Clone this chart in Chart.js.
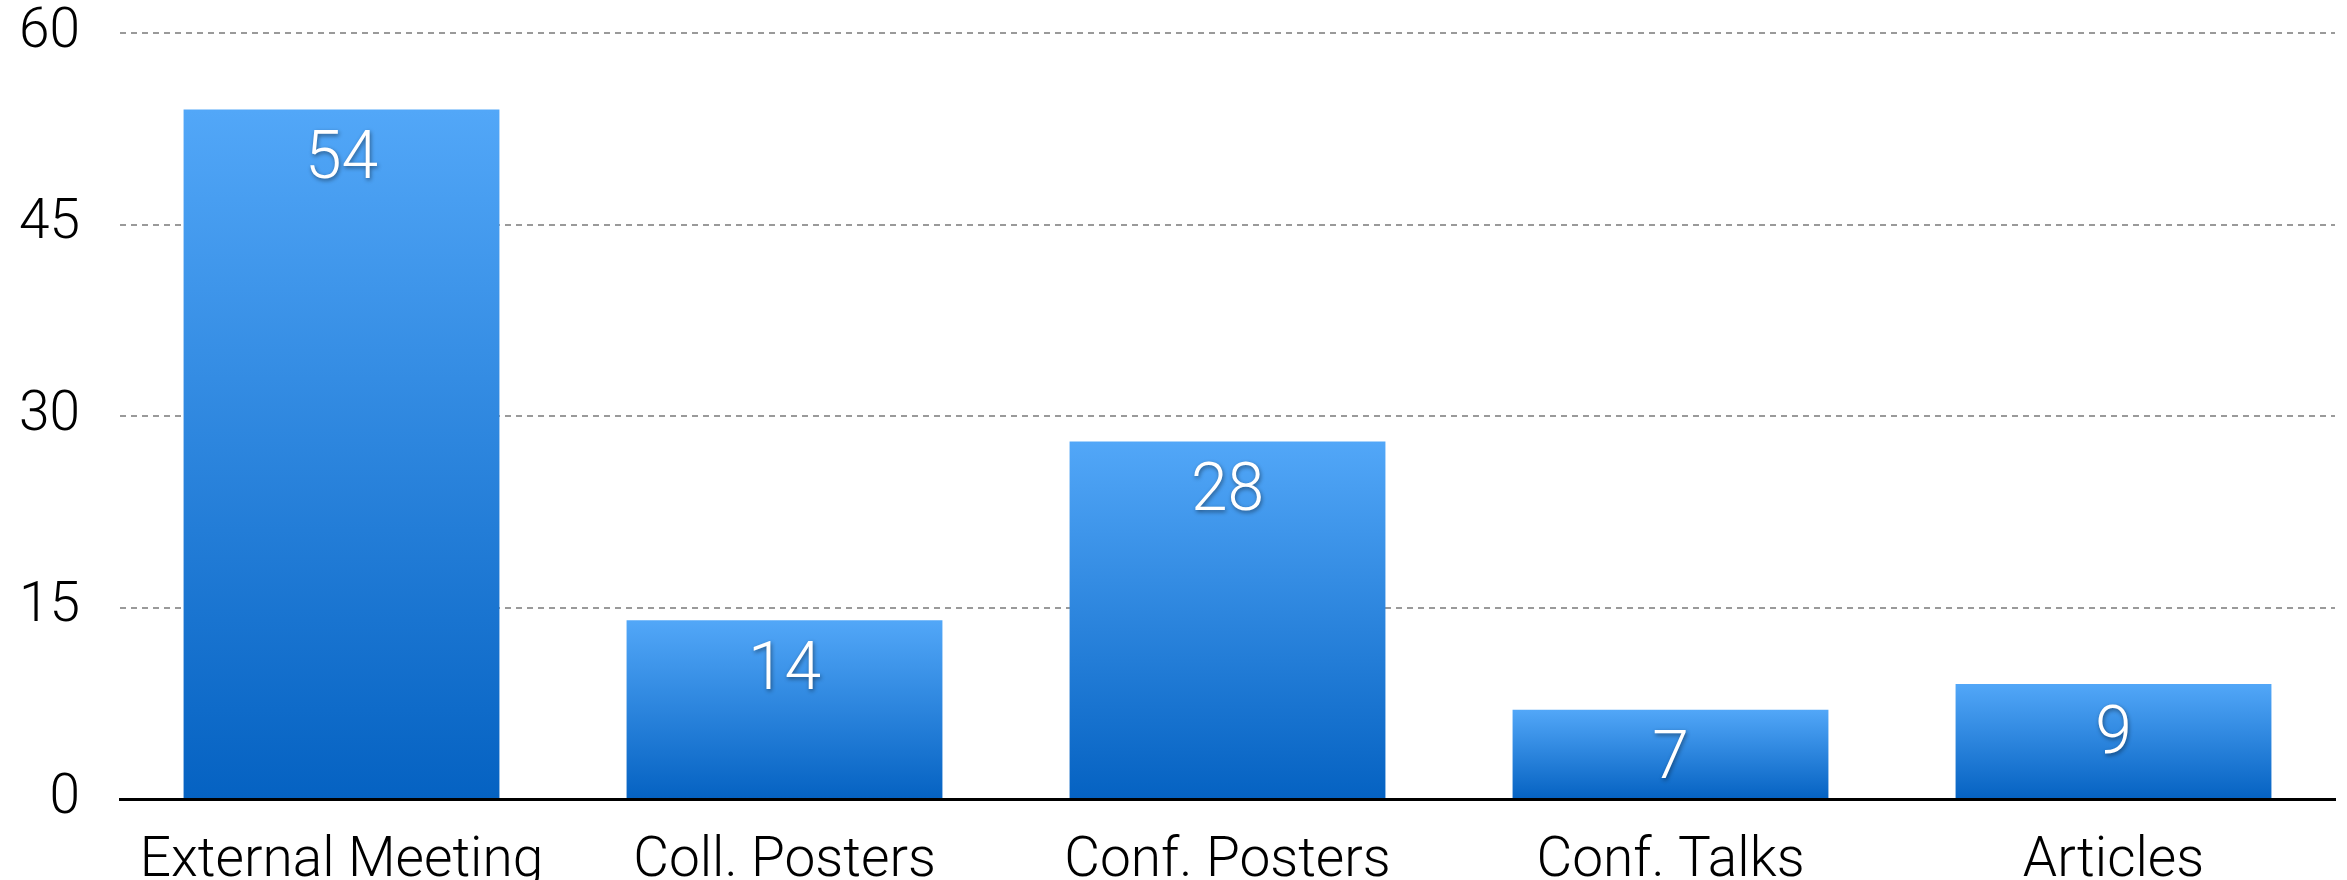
<!DOCTYPE html>
<html>
<head>
<meta charset="utf-8">
<script src="https://cdn.jsdelivr.net/npm/chart.js@4.4.1/dist/chart.umd.min.js"></script>
<style>
  html, body { margin: 0; padding: 0; background: #fff; }
  #wrap { width: 2347px; height: 880px; }
</style>
</head>
<body>
<div id="wrap"><canvas id="chartBars"></canvas></div>
<script>
const categories = ['External Meeting', 'Coll. Posters', 'Conf. Posters', 'Conf. Talks', 'Articles'];
const counts = [54, 14, 28, 7, 9];
const yTicks = [0, 15, 30, 45, 60];

(function(){
  const FONT = 'Roboto, "Liberation Sans", sans-serif';

  // white value labels near the top of each bar
  const barLabels = {
    id: 'barLabels',
    afterDatasetsDraw(chart) {
      const ctx = chart.ctx;
      const meta = chart.getDatasetMeta(0);
      ctx.save();
      ctx.font = '300 66px ' + FONT;
      ctx.fillStyle = '#fff';
      ctx.textAlign = 'center';
      ctx.textBaseline = 'middle';
      ctx.shadowColor = 'rgba(0,0,0,0.45)';
      ctx.shadowBlur = 4;
      ctx.shadowOffsetX = 1;
      ctx.shadowOffsetY = 2;
      meta.data.forEach((bar, i) => {
        ctx.fillText(String(counts[i]), bar.x, bar.y + 52);
      });
      ctx.restore();
    }
  };

  const el = document.getElementById('chartBars');
  new Chart(el, {
    type: 'bar',
    data: {
      labels: categories,
      datasets: [{
        data: counts,
        backgroundColor: function(c) {
          const chart = c.chart;
          if (!chart.chartArea) return '#2a85e0';
          const y = chart.scales.y;
          const top = y.getPixelForValue(c.raw);
          const bottom = y.getPixelForValue(0);
          const g = chart.ctx.createLinearGradient(0, top, 0, bottom);
          g.addColorStop(0, '#52a7f8');
          g.addColorStop(1, '#0562c2');
          return g;
        },
        borderWidth: 0,
        categoryPercentage: 0.713,
        barPercentage: 1
      }]
    },
    options: {
      responsive: true,
      maintainAspectRatio: false,
      animation: false,
      layout: { padding: { top: 33, right: 12, left: 0, bottom: 0 } },
      plugins: { legend: { display: false }, tooltip: { enabled: false } },
      scales: {
        x: {
          grid: { display: false },
          border: { display: true, color: '#000', width: 3 },
          ticks: { color: '#000', font: { family: FONT, size: 55, weight: 300 }, padding: 22, maxRotation: 0 },
          afterFit: s => { s.height = 81; s.paddingLeft = 0; s.paddingRight = 0; }
        },
        y: {
          min: 0, max: 60,
          afterBuildTicks: s => { s.ticks = yTicks.map(v => ({ value: v })); },
          grid: { color: '#9a9a9a', lineWidth: 2, drawTicks: false },
          border: { display: false, dash: [6, 5] },
          ticks: { color: '#000', font: { family: FONT, size: 55, weight: 300 }, padding: 40 },
          afterFit: s => { s.width = 120; s.paddingTop = 0; s.paddingBottom = 0; }
        }
      }
    },
    plugins: [barLabels]
  });
})();
</script>
</body>
</html>
